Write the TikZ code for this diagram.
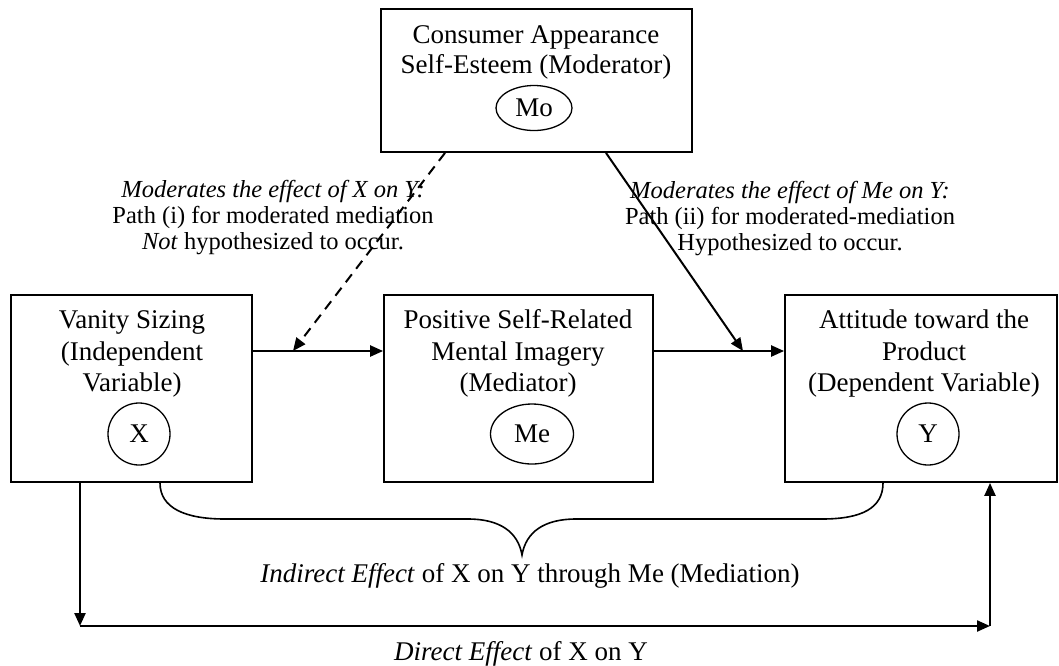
\documentclass[tikz,border=0pt]{standalone}
\usepackage{fontspec}
\setmainfont{Liberation Serif}
\usetikzlibrary{arrows.meta,calc,shapes.geometric}
\begin{document}
\begin{tikzpicture}[x=1pt,y=-1pt,
  box/.style={draw, line width=1.8pt, rectangle, inner sep=0pt, minimum width=#1, minimum height=187pt},
  ovalnode/.style={draw, line width=1.3pt, ellipse, inner sep=0pt, font=\fontsize{27}{30}\selectfont},
  circnode/.style={draw, line width=1.3pt, circle, minimum size=62pt, inner sep=0pt, font=\fontsize{27}{30}\selectfont},
  btxt/.style={anchor=base, inner sep=0pt, font=\fontsize{27}{30}\selectfont},
  ltxt/.style={anchor=base, inner sep=0pt, font=\fontsize{24.5}{26}\selectfont},
  arr/.style={line width=2.3pt, -{Triangle[length=13pt,width=11pt]}}
]
\useasboundingbox (0,0) rectangle (1059,665);
% boxes
\node[box=311pt, minimum height=143pt] (Mo) at (536.5,80.5) {};
\node[box=241pt] (X) at (131.5,388.5) {};
\node[box=269pt] (Me) at (518.5,388.5) {};
\node[box=272pt] (Y) at (921,388.5) {};
% box texts
\node[btxt] (mot1) at (536,43) {Consumer Appearance};
\node[btxt] (mot2) at (536,73) {Self-Esteem (Moderator)};
\node[ovalnode, minimum width=76pt, minimum height=45pt] (mo) at (534,108) {Mo};
\node[btxt] (xt1) at (132,328) {Vanity Sizing};
\node[btxt] (xt2) at (132,360) {(Independent};
\node[btxt] (xt3) at (132,391) {Variable)};
\node[circnode] (x) at (139,434) {X};
\node[btxt] (mt1) at (518,328) {Positive Self-Related};
\node[btxt] (mt2) at (518,360) {Mental Imagery};
\node[btxt] (mt3) at (518,391) {(Mediator)};
\node[ovalnode, minimum width=83pt, minimum height=60pt] (me) at (532,434) {Me};
\node[btxt] (yt1) at (924,328) {Attitude toward the};
\node[btxt] (yt2) at (924,360) {Product};
\node[btxt] (yt3) at (924,391) {(Dependent Variable)};
\node[circnode] (y) at (928,434) {Y};
% labels
\node[ltxt] (l1) at (273,197) {\textit{Moderates the effect of X on Y:}};
\node[ltxt] (l2) at (273,223) {Path (i) for moderated mediation};
\node[ltxt] (l3) at (273,249) {\textit{Not} hypothesized to occur.};
\node[ltxt] (r1) at (790,198) {\textit{Moderates the effect of Me on Y:}};
\node[ltxt] (r2) at (790,224) {Path (ii) for moderated-mediation};
\node[ltxt] (r3) at (790,250) {Hypothesized to occur.};
\node[btxt] (ind) at (530,582) {\textit{Indirect Effect} of X on Y through Me (Mediation)};
\node[btxt] (dir) at (521,660) {\textit{Direct Effect} of X on Y};
% coordinates
\coordinate (m1) at (293,351);
\coordinate (m2) at (743,351);
\coordinate (c1) at (80,626);
\coordinate (c2) at (990,626);
% main arrows
\draw[arr] ([yshift=37.5pt]X.east) -- ([yshift=37.5pt]Me.west);
\draw[arr] ([yshift=37.5pt]Me.east) -- ([yshift=37.5pt]Y.west);
% moderation
\draw[arr, dash pattern=on 10pt off 7pt, line width=2pt] ([xshift=-91.5pt]Mo.south) -- (m1);
\draw[arr, line width=2pt] ([xshift=69.5pt]Mo.south) -- (m2);
% direct effect
\draw[arr] ([xshift=-51.5pt]X.south) -- (c1);
\draw[arr] (c1) -- (c2);
\draw[arr] (c2) -- ([xshift=69pt]Y.south);
% brace
\draw[line width=1.6pt] ([xshift=28.5pt]X.south) .. controls (160,508) and (185,519) .. (225,519) -- (468,519)
  .. controls (500,519) and (518,532) .. (522,555)
  .. controls (526,532) and (544,519) .. (576,519) -- (822,519)
  .. controls (862,519) and (883,508) .. ([xshift=-38pt]Y.south);
\end{tikzpicture}
\end{document}
